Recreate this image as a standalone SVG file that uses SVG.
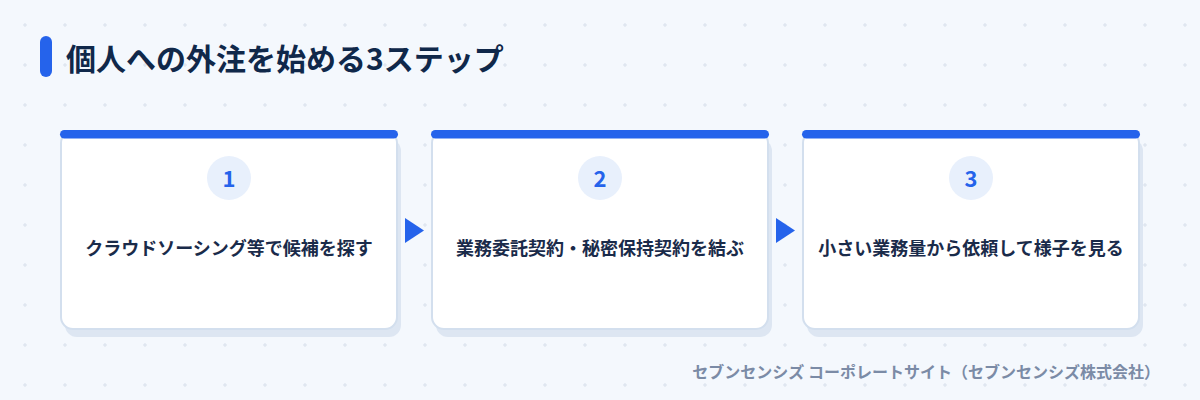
<svg xmlns="http://www.w3.org/2000/svg" width="1200" height="400" viewBox="0 0 1200 400">
  <defs>
    <pattern id="grid" x="0" y="0" width="40" height="40" patternUnits="userSpaceOnUse">
      <path d="M23 25h4M25 23v4" stroke="#d9e1ec" stroke-width="1" fill="none"/>
    </pattern>
    <style>
      .title { font-family: "Noto Sans CJK JP", "Noto Sans", sans-serif; font-weight: 700; font-size: 30px; fill: #10284a; }
      .shadow { fill: #dde6f2; }
      .card { fill: #ffffff; stroke: #d3dfee; stroke-width: 2; }
      .bar { fill: #2563eb; }
      .badge { fill: #e8f0fc; }
      .num { font-family: "Noto Sans CJK JP", "Noto Sans", sans-serif; font-weight: 700; font-size: 22px; fill: #2563eb; text-anchor: middle; }
      .label { font-family: "Noto Sans CJK JP", "Noto Sans", sans-serif; font-weight: 700; font-size: 18px; fill: #1a2b4a; text-anchor: middle; }
      .arrow { fill: #2563eb; }
      .footer { font-family: "Noto Sans CJK JP", "Noto Sans", sans-serif; font-weight: 700; font-size: 16px; fill: #7b8ba6; text-anchor: end; }
    </style>
  </defs>
  <rect x="0" y="0" width="1200" height="400" fill="#f4f8fd"/>
  <rect x="0" y="0" width="1200" height="400" fill="url(#grid)"/>

  <g id="title">
    <rect x="40" y="36" width="12" height="41" rx="6" fill="#2563eb"/>
    <text class="title" x="66" y="70">個人への外注を始める3ステップ</text>
  </g>

  <g id="step1">
    <rect class="shadow" x="65" y="139" width="336" height="198" rx="12"/>
    <rect class="card" x="61" y="131" width="336" height="198" rx="12"/>
    <rect class="bar" x="60" y="130" width="338" height="8.5" rx="4.25"/>
    <circle class="badge" cx="229" cy="178" r="22"/>
    <text class="num" x="229" y="187">1</text>
    <text class="label" x="229" y="255">クラウドソーシング等で候補を探す</text>
  </g>

  <g id="step2">
    <rect class="shadow" x="436" y="139" width="336" height="198" rx="12"/>
    <rect class="card" x="432" y="131" width="336" height="198" rx="12"/>
    <rect class="bar" x="431" y="130" width="338" height="8.5" rx="4.25"/>
    <circle class="badge" cx="600" cy="178" r="22"/>
    <text class="num" x="600" y="187">2</text>
    <text class="label" x="600" y="255">業務委託契約・秘密保持契約を結ぶ</text>
  </g>

  <g id="step3">
    <rect class="shadow" x="807" y="139" width="336" height="198" rx="12"/>
    <rect class="card" x="803" y="131" width="336" height="198" rx="12"/>
    <rect class="bar" x="802" y="130" width="338" height="8.5" rx="4.25"/>
    <circle class="badge" cx="971" cy="178" r="22"/>
    <text class="num" x="971" y="187">3</text>
    <text class="label" x="971" y="255">小さい業務量から依頼して様子を見る</text>
  </g>

  <g id="connectors">
    <polygon class="arrow" points="405,218 424,230.5 405,243"/>
    <polygon class="arrow" points="776,218 795,230.5 776,243"/>
  </g>

  <g id="footer">
    <text class="footer" x="1160" y="378">セブンセンシズ コーポレートサイト（セブンセンシズ株式会社）</text>
  </g>
</svg>
